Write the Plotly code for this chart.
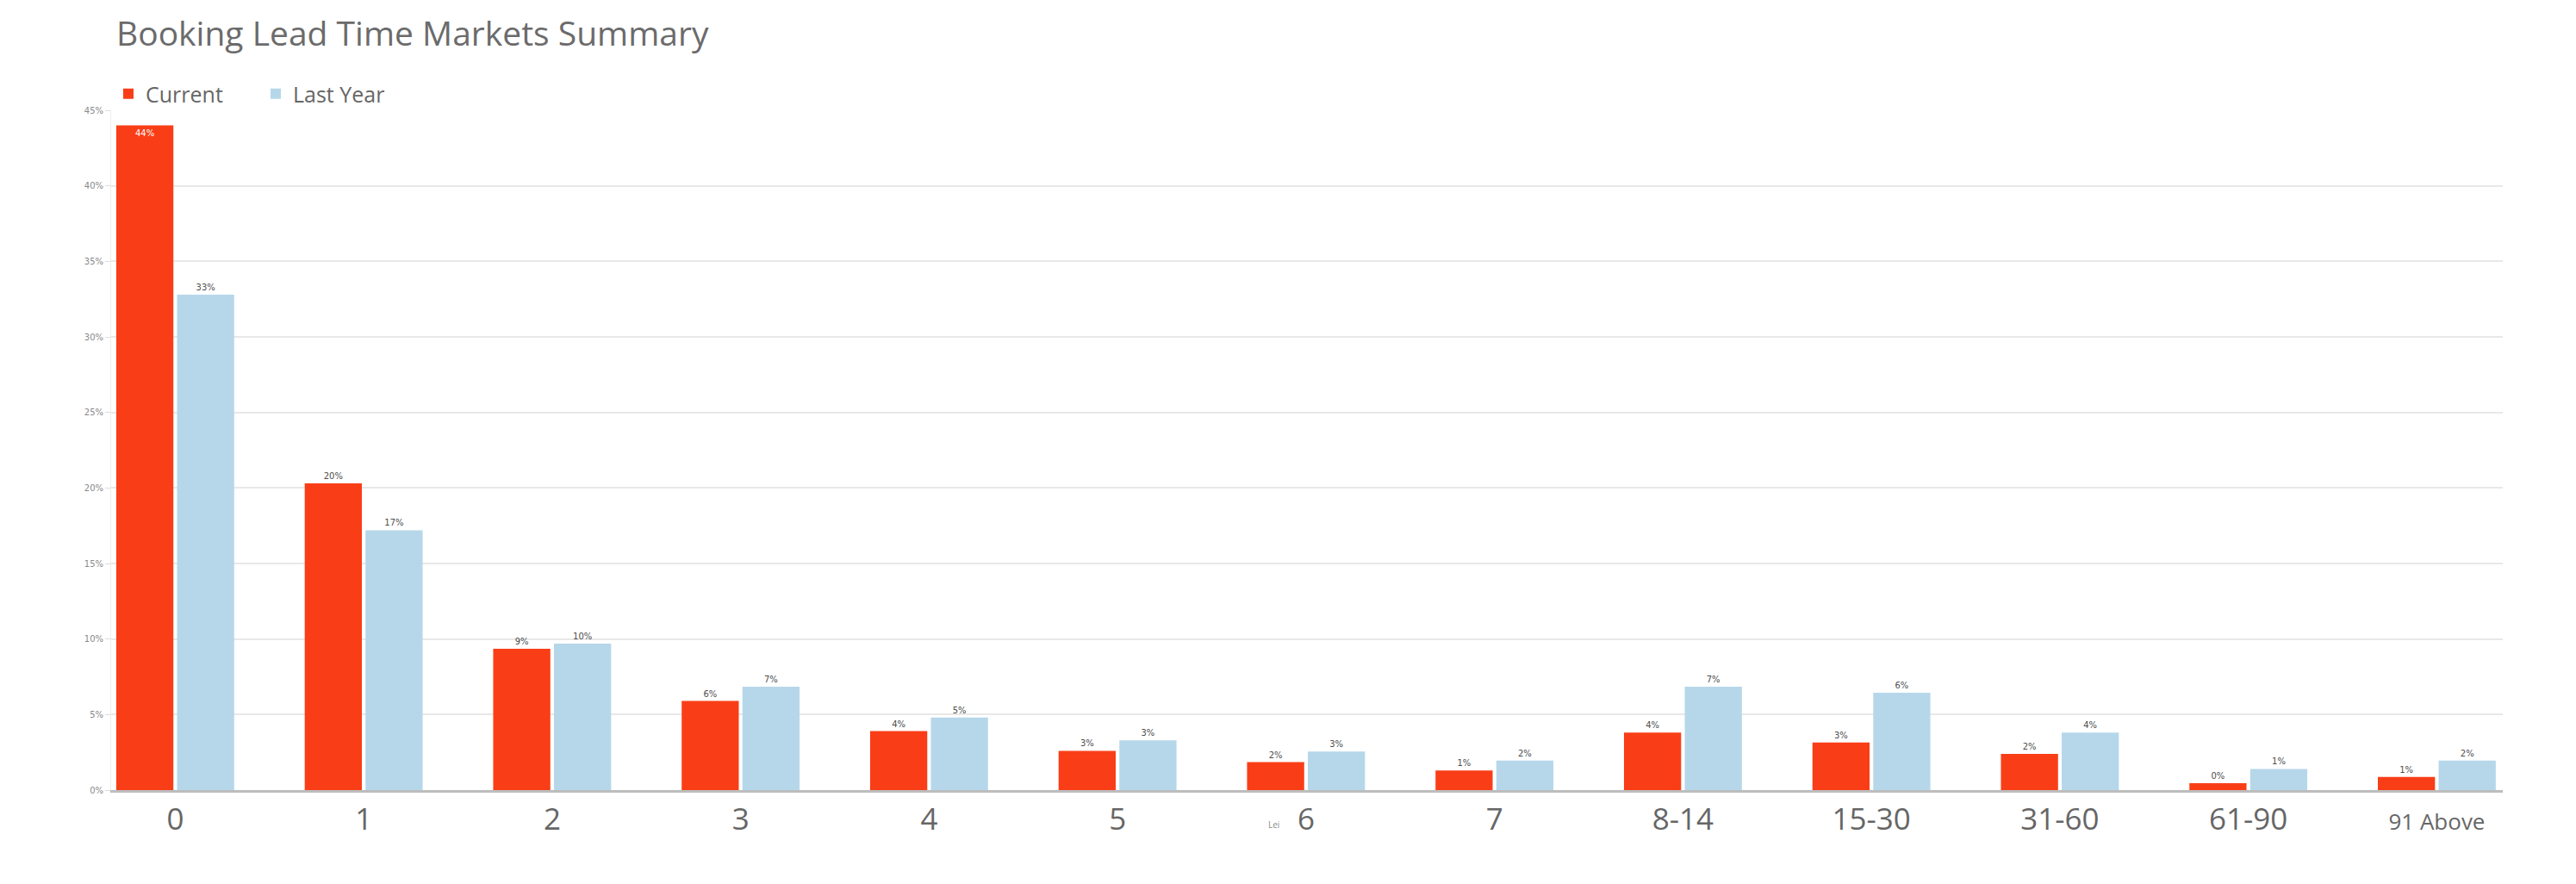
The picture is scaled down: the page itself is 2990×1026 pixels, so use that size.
import plotly.graph_objects as go

categories = ["0", "1", "2", "3", "4", "5", "6", "7", "8-14", "15-30", "31-60", "61-90", "91 Above"]
current = [44.0, 20.3, 9.35, 5.9, 3.9, 2.6, 1.85, 1.3, 3.8, 3.15, 2.4, 0.45, 0.87]
last_year = [32.8, 17.2, 9.7, 6.85, 4.8, 3.3, 2.55, 1.96, 6.85, 6.45, 3.8, 1.4, 1.96]
y_ticks = [0, 5, 10, 15, 20, 25, 30, 35, 40, 45]

tick_text = [c if c != "91 Above" else '<span style="font-size:26px">91 Above</span>' for c in categories]

W, H = 2990, 1026
L, R, T, B = 121, 93, 120, 117
PW, PH = W - L - R, H - T - B

fig = go.Figure()
fig.add_trace(go.Bar(
    name="Current", x=categories, y=current,
    marker=dict(color="#F93E17", line=dict(width=0)),
    texttemplate="%{y:.0f}%",
    textposition=["inside"] + ["outside"] * (len(categories) - 1),
    insidetextanchor="end", textangle=0,
    insidetextfont=dict(size=10, color="white", family="DejaVu Sans"),
    outsidetextfont=dict(size=10, color="#4d4d4d", family="DejaVu Sans"),
    cliponaxis=False,
))
fig.add_trace(go.Bar(
    name="Last Year", x=categories, y=last_year,
    marker=dict(color="#B6D7EA", line=dict(width=0)),
    texttemplate="%{y:.0f}%",
    textposition="outside", textangle=0,
    outsidetextfont=dict(size=10, color="#4d4d4d", family="DejaVu Sans"),
    cliponaxis=False,
))

fig.add_annotation(
    text="Lei", xref="paper", yref="paper",
    x=(1470 - L) / PW, y=-(949 - (H - B)) / PH,
    xanchor="center", yanchor="middle", showarrow=False,
    font=dict(size=10, color="#888888", family="Open Sans"),
)

fig.update_layout(
    width=W, height=H,
    margin=dict(l=L, r=R, t=T, b=B, autoexpand=False),
    paper_bgcolor="white", plot_bgcolor="white",
    font=dict(family="Open Sans", color="#666666"),
    title=dict(
        text="Booking Lead Time Markets Summary",
        x=127 / W, xanchor="left", xref="container",
        y=1 - 31 / H, yanchor="middle", yref="container",
        font=dict(size=39, color="#6b6b6b", family="Open Sans"),
    ),
    barmode="group", bargap=0.355, bargroupgap=0.06,
    legend=dict(
        orientation="h", x=0, xanchor="left", y=1 + 19 / PH, yanchor="middle",
        font=dict(size=25, color="#666666"), itemclick=False, bgcolor="rgba(0,0,0,0)",
        traceorder="normal", entrywidth=126, entrywidthmode="pixels",
    ),
    xaxis=dict(
        type="category", range=[-0.34, 12.35],
        tickmode="array", tickvals=categories, ticktext=tick_text,
        tickfont=dict(size=35, color="#666666"),
        ticks="outside", ticklen=1, tickcolor="rgba(0,0,0,0)",
        showline=True, linecolor="#bdbdbd", linewidth=3,
        showgrid=False, zeroline=False,
    ),
    yaxis=dict(
        range=[0, 45], tickmode="array", tickvals=y_ticks,
        ticktext=[f"{v}%" for v in y_ticks],
        tickfont=dict(size=10, color="#888888", family="DejaVu Sans"),
        ticks="outside", ticklen=6, tickcolor="#dddddd",
        showgrid=True, gridcolor="#e8e8e8", gridwidth=2,
        showline=True, linecolor="#eeeeee", linewidth=1,
        zeroline=False,
    ),
)

fig.write_html("out.html")
